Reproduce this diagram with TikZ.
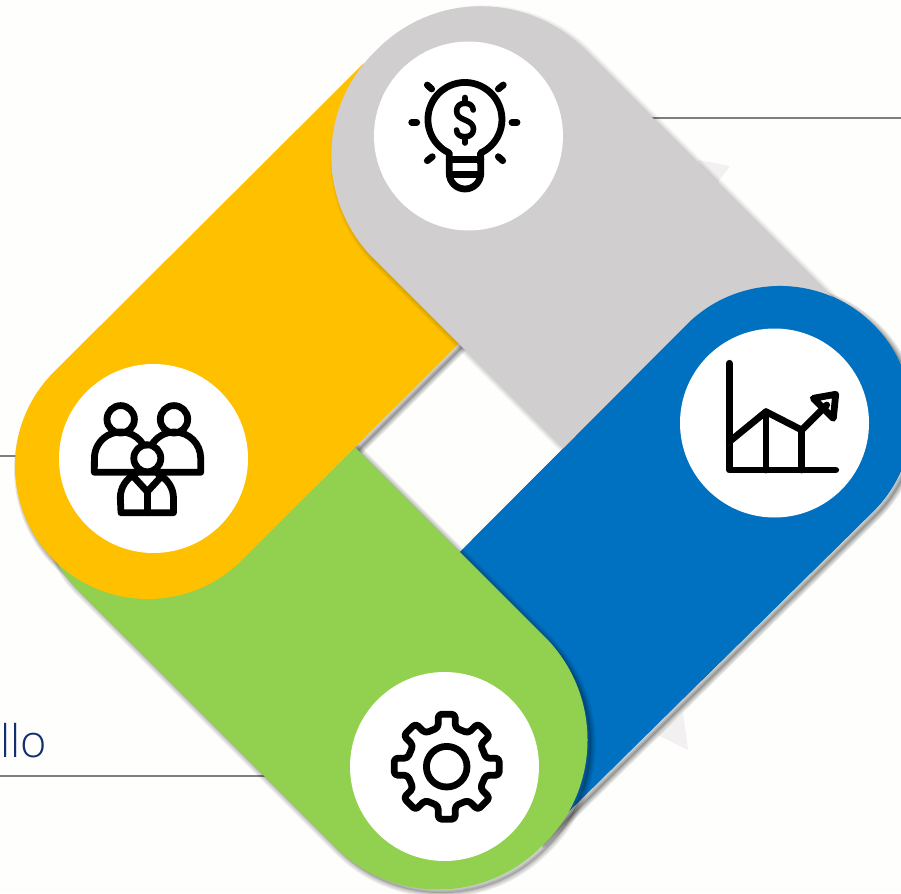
\documentclass[tikz,border=0pt]{standalone}
\usepackage{fontspec}
\newfontfamily\labfont{Open Sans Light}
\usetikzlibrary{calc}
\definecolor{bg}{HTML}{FEFEFD}
\definecolor{cgray}{HTML}{D0CECE}
\definecolor{cyellow}{HTML}{FFC000}
\definecolor{cblue}{HTML}{0070C0}
\definecolor{cgreen}{HTML}{92D050}
\definecolor{cline}{HTML}{7F7F7F}
\definecolor{cnavy}{HTML}{12306E}
\definecolor{cfaint}{HTML}{F2F0F0}
\tikzset{
  icon/.style={draw=black,line width=6.8pt,line cap=round,line join=round},
  thinicon/.style={icon,line width=5.6pt},
  rule/.style={draw=cline,line width=2.8pt},
  disc/.style={fill=white},
}
% #1 fill opacity, #2 stroke opacity, #3 path
\newcommand\softshadow[3]{%
  \begin{scope}[shift={(3.6,3.6)}]
    \fill[black,opacity=#1] #3;
    \foreach \w in {9,6.5,4,2}{\draw[black,opacity=#2,line width=\w pt,line join=round] #3;}
  \end{scope}}
\begin{document}
\begin{tikzpicture}[x=1pt,y=1pt,yscale=-1]
\useasboundingbox (0,0) rectangle (901,893);
\clip (0,0) rectangle (901,893);
\fill[bg] (0,0) rectangle (901,893);

% faint shapes behind
\fill[cfaint] (698,160) -- (730,166) -- (712,190) -- cycle;
\fill[cfaint] (683,713) -- (688,750) -- (658,735) -- cycle;

% rules
\coordinate (r1a) at (640,118); \coordinate (r1b) at (901,118);
\coordinate (r2a) at (0,456);   \coordinate (r2b) at (40,456);
\coordinate (r3a) at (0,776);   \coordinate (r3b) at (300,776);
\draw[rule] (r1a) -- (r1b);
\draw[rule] (r2a) -- (r2b);
\draw[rule] (r3a) -- (r3b);

% label
\node[anchor=base west,inner sep=0pt,text=cnavy,font=\labfont\fontsize{45}{45}\selectfont] (lab) at (0,757) {llo};

% blue (full)
\def\bluefull{(356,656) -- (540,840) -- (873.3,511.3) arc[start angle=45,end angle=-135,radius=132] -- cycle}
\softshadow{.14}{.09}{\bluefull}
\fill[cblue] \bluefull;

% yellow outline path and its shadow (falls on the centre, not on the green)
\def\yellowp{(551.5,251.5) -- (242,560) arc[start angle=45,end angle=225,radius=133] -- (363.5,63.5) -- cycle}
\softshadow{.14}{.09}{\yellowp}

% green
\def\greenp{(214.5,306.5) -- (544.74,636.76) arc[start angle=-45,end angle=45,radius=146] -- (541.24,846.74) arc[start angle=45,end angle=135,radius=146] -- (75,587) arc[start angle=135,end angle=225,radius=100] -- cycle}
\softshadow{.14}{.065}{\greenp}
\fill[cgreen] \greenp;

% yellow
\fill[cyellow] \yellowp;
\fill[cyellow] (166,260) -- (178,254) -- (366,66) -- (366,110) -- cycle;

% gray
\def\grayp{(842.5,307.5) -- (632.5,517.5) -- (374,259) arc[start angle=135,end angle=225,radius=146] -- (377.5,49) arc[start angle=225,end angle=315,radius=146] -- cycle}
\softshadow{.08}{.04}{\grayp}
\fill[cgray] \grayp;

% blue (upper part, above the gray)
\fill[cblue] (516,496) -- (702,680.2) -- (873.3,511.3) arc[start angle=45,end angle=-135,radius=132] -- cycle;

% white discs
\fill[disc] (468.5,136) circle[radius=94.5];
\fill[disc] (153.5,458.5) circle[radius=94.5];
\fill[disc] (774.5,423) circle[radius=94.5];
\fill[disc] (444.5,766.5) circle[radius=94.5];

% bulb
\draw[icon] (449.3,153) arc[start angle=115,end angle=425,radius=37] -- (480.7,173.3) arc[start angle=0,end angle=180,radius=15.7] -- cycle;
\draw[icon] (449.3,159.3) -- (480.7,159.3);
\draw[icon] (449.3,174.5) -- (480.7,174.5);
\draw[icon] (411.7,122.3) -- (416.7,122.3);
\draw[icon] (512,122.3) -- (517,122.3);
\draw[icon] (427.3,85) -- (431.7,89);
\draw[icon] (503.3,85) -- (498.3,89);
\draw[icon] (427.3,160.7) -- (432.3,156.7);
\draw[icon] (502.7,160.7) -- (498.3,156.7);
\draw[thinicon] (473.2,110) .. controls (473,105.5) and (469.5,103.3) .. (465,103.3) .. controls (460,103.3) and (456.6,106) .. (456.6,111) .. controls (456.6,116) and (460,118) .. (465,120) .. controls (470,122) and (473.5,124.5) .. (473.5,129) .. controls (473.5,134) and (470,136.7) .. (465,136.7) .. controls (460,136.7) and (456.6,134.5) .. (456.6,130);
\draw[thinicon] (465,97.5) -- (465,103.3);
\draw[thinicon] (465,136.7) -- (465,143);

% people
\draw[icon] (120.7,419.3) circle[radius=13.7];
\draw[icon] (174,419.3) circle[radius=13.7];
\draw[icon] (147.3,458.3) circle[radius=13.5];
\draw[icon] (147,445) -- (143.5,445.1) arc[start angle=330,end angle=180,radius=26.3] -- (94.3,472.3) -- (200.7,472.3) -- (200.7,458.3) arc[start angle=360,end angle=210,radius=26.3];
\draw[icon] (135.5,474) arc[start angle=245,end angle=180,radius=26.3] -- (121,512.7) -- (173.5,512.7) -- (173.5,498.3) arc[start angle=360,end angle=295,radius=26.3];
\draw[icon] (147.3,491) -- (147.3,512.7);
\draw[icon] (132,475) -- (147.3,491.7) -- (162.7,475);

% chart
\draw[icon] (729.3,363.3) -- (729.3,470) -- (835.7,470);
\draw[icon] (729.3,441.7) -- (766,411.7) -- (801.7,430) -- (826.7,405);
\draw[icon] (766,411.7) -- (766,470);
\draw[icon] (801.7,430) -- (801.7,470);
\draw[icon] (813.3,398.3) -- (835.7,394.3) -- (833.3,418.3) -- cycle;

% gear
\coordinate (G) at (446.7,766.7);
\draw[icon] (G) circle[radius=20.3];
\draw[icon,rounded corners=3.5pt] ($(G)+(-22.5:40)$)
  \foreach \a in {0,45,...,315}{
    -- ($(G)+(\a:39)+(\a-90:8.5)$) -- ($(G)+(\a:52.5)+(\a-90:8.5)$)
    -- ($(G)+(\a:52.5)+(\a+90:8.5)$) -- ($(G)+(\a:39)+(\a+90:8.5)$)
  } -- cycle;
\end{tikzpicture}
\end{document}
